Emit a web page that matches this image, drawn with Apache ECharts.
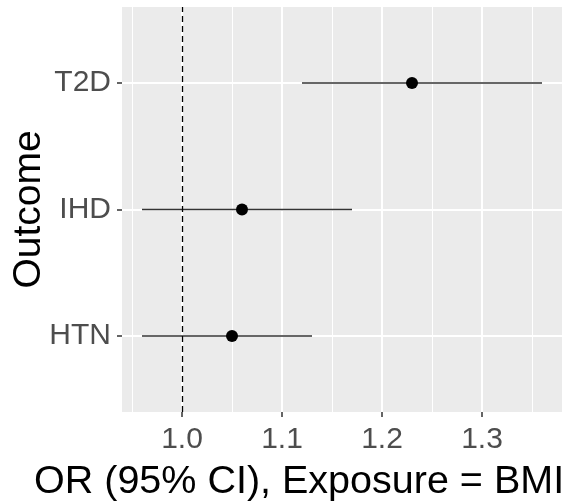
<!DOCTYPE html>
<html>
<head>
<meta charset="utf-8">
<script src="https://cdn.jsdelivr.net/npm/echarts@6/dist/echarts.min.js"></script>
<style>
  html, body { margin: 0; padding: 0; background: #fff; }
  #chart { width: 567px; height: 504px; }
</style>
</head>
<body>
<div id="chart"></div>
<script>
// outcomes from bottom to top
const outcomes = ['HTN', 'IHD', 'T2D']
const oddsRatio = [1.05, 1.06, 1.23]
const ciLower = [0.96, 0.96, 1.12]
const ciUpper = [1.13, 1.17, 1.36]
const xTicks = [1.0, 1.1, 1.2, 1.3]
const xMinor = [0.95, 1.05, 1.15, 1.25, 1.35]
const refLine = 1.0

const font = 'Liberation Sans, Arial, sans-serif'
const rowPos = outcomes.map((o, i) => i + 1)

const chart = echarts.init(document.getElementById('chart'))

const gridLines = []
xMinor.forEach(v => gridLines.push({ xAxis: v, lineStyle: { color: '#fff', width: 1, type: 'solid' } }))
xTicks.forEach(v => gridLines.push({ xAxis: v, lineStyle: { color: '#fff', width: 2, type: 'solid' } }))
rowPos.forEach(v => gridLines.push({ yAxis: v, lineStyle: { color: '#fff', width: 2, type: 'solid' } }))

// one short line series per confidence interval
const ciSeries = outcomes.map((o, i) => ({
  type: 'line',
  name: o,
  z: 3,
  silent: true,
  symbol: 'none',
  lineStyle: { color: '#333', width: 1.6 },
  data: [[ciLower[i], rowPos[i]], [ciUpper[i], rowPos[i]]]
}))

const option = {
  animation: false,
  // x axis title, placed like the ggplot one
  title: {
    text: 'OR (95% CI), Exposure = BMI',
    left: 34,
    top: 462,
    padding: 0,
    textStyle: { fontFamily: font, fontSize: 39.5, fontWeight: 'normal', color: '#000' }
  },
  grid: {
    left: 122, right: 5, top: 7, bottom: 92,
    outerBoundsMode: 'none',
    containLabel: false,
    show: true, backgroundColor: '#EBEBEB', borderWidth: 0
  },
  xAxis: {
    type: 'value',
    min: 0.94,
    max: 1.38,
    axisLine: { show: false },
    axisTick: { show: true, customValues: xTicks, length: 5, lineStyle: { color: '#333', width: 1.5 } },
    axisLabel: {
      customValues: xTicks,
      formatter: v => v.toFixed(1),
      fontFamily: font, fontSize: 30, color: '#4D4D4D', margin: 13
    },
    splitLine: { show: false }
  },
  yAxis: {
    type: 'value',
    min: 0.4,
    max: 3.6,
    name: 'Outcome',
    nameLocation: 'middle',
    nameRotate: 90,
    nameGap: 73,
    nameMoveOverlap: false,
    nameTextStyle: { fontFamily: font, fontSize: 39, color: '#000' },
    axisLine: { show: false },
    axisTick: { show: true, customValues: rowPos, length: 5, lineStyle: { color: '#333', width: 1.5 } },
    axisLabel: {
      customValues: rowPos,
      formatter: v => outcomes[Math.round(v) - 1] || '',
      fontFamily: font, fontSize: 30, color: '#4D4D4D', margin: 11
    },
    splitLine: { show: false }
  },
  series: [
    {
      type: 'line',
      data: [],
      silent: true,
      z: 1,
      markLine: { z: 1, silent: true, symbol: 'none', label: { show: false }, animation: false, data: gridLines }
    },
    {
      type: 'line',
      data: [],
      silent: true,
      z: 2,
      markLine: {
        z: 4, silent: true, symbol: 'none', label: { show: false }, animation: false,
        data: [{ xAxis: refLine }],
        lineStyle: { color: '#000', width: 1.3, type: [6, 4] }
      }
    },
    ...ciSeries,
    {
      type: 'scatter',
      z: 5,
      symbolSize: 12,
      itemStyle: { color: '#000', opacity: 1 },
      data: outcomes.map((o, i) => [oddsRatio[i], rowPos[i]])
    }
  ]
}

chart.setOption(option)
</script>
</body>
</html>
